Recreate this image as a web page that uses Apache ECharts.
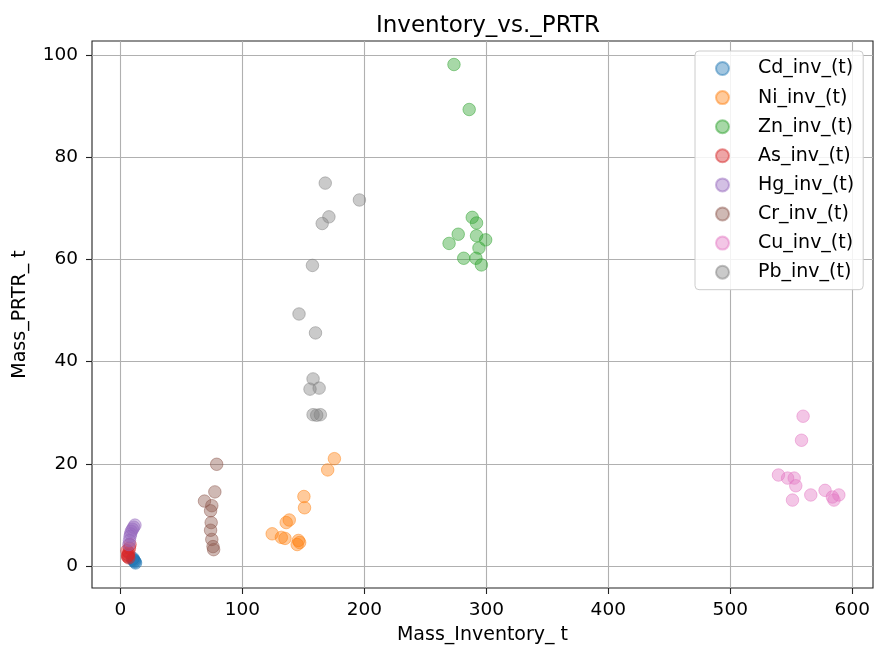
<!DOCTYPE html>
<html>
<head>
<meta charset="utf-8">
<script src="https://cdn.jsdelivr.net/npm/echarts@6/dist/echarts.min.js"></script>
<style>html,body{margin:0;padding:0;background:#fff}#c{width:877px;height:651px}</style>
</head>
<body>
<div id="c"></div>
<script>
const xTicks = [0, 100, 200, 300, 400, 500, 600];
const yTicks = [0, 20, 40, 60, 80, 100];

const seriesNames = ['Cd_inv_(t)', 'Ni_inv_(t)', 'Zn_inv_(t)', 'As_inv_(t)', 'Hg_inv_(t)', 'Cr_inv_(t)', 'Cu_inv_(t)', 'Pb_inv_(t)'];

const cdData = [[11, 1.2], [12, 0.8], [10.5, 1.5], [12.5, 0.6], [11.5, 1.0], [10, 1.3]];
const niData = [[175.5, 21], [170, 18.8], [150.5, 13.6], [151, 11.4], [138.5, 9], [136, 8.5], [124.5, 6.3], [132, 5.6], [135, 5.4], [146, 5], [145, 4.2], [147, 4.6]];
const znData = [[273.5, 98.1], [286, 89.3], [288.5, 68.2], [292, 67.1], [277, 64.9], [269.5, 63.1], [292, 64.6], [299.5, 63.8], [294, 62.2], [281.5, 60.2], [291.5, 60.2], [296, 58.9]];
const asData = [[6, 1.8], [6.5, 2.2], [7, 2.6], [5.5, 3], [7.5, 3.5], [8, 4.2], [6, 2.0], [7, 1.6]];
const hgData = [[7, 4.2], [7.5, 5], [8, 5.8], [8.5, 6.3], [9, 6.8], [10, 7.2], [11, 7.6], [12, 8.0]];
const crData = [[79, 19.9], [77.5, 14.5], [69, 12.7], [75, 11.8], [74, 10.8], [74.5, 8.5], [74, 7], [75, 5.2], [76, 3.8], [76.5, 3.2]];
const cuData = [[559.7, 29.3], [558.4, 24.6], [539.5, 17.8], [547, 17.2], [552.4, 17.2], [553.7, 15.7], [566, 13.9], [551, 12.9], [577.7, 14.8], [583.7, 13.5], [589, 13.9], [585, 12.9]];
const pbData = [[168, 74.9], [196, 71.6], [171, 68.3], [165.5, 67], [157.5, 58.8], [146.5, 49.3], [160, 45.6], [158, 36.6], [155.5, 34.6], [163, 34.8], [158, 29.6], [164, 29.6], [161, 29.5]];

const allData = [cdData, niData, znData, asData, hgData, crData, cuData, pbData];
const colors = ['31,119,180', '255,127,14', '44,160,44', '214,39,40', '148,103,189', '140,86,75', '227,119,194', '127,127,127'];

const font = 'DejaVu Sans';
const chart = echarts.init(document.getElementById('c'));

const series = seriesNames.map((n, i) => ({
  name: n,
  type: 'scatter',
  data: allData[i],
  symbol: 'circle',
  symbolSize: 12.5,
  itemStyle: {
    color: 'rgba(' + colors[i] + ',0.52)',
    borderColor: 'rgba(' + colors[i] + ',0.6)',
    borderWidth: 1
  },
  emphasis: { disabled: true }
}));

chart.setOption({
  animation: false,
  backgroundColor: '#fff',
  title: {
    text: 'Inventory_vs._PRTR',
    left: 371,
    top: 10,
    textStyle: { fontFamily: font, fontSize: 23, fontWeight: 'normal', color: '#000', lineHeight: 23 }
  },
  legend: {
    orient: 'vertical',
    left: 695,
    top: 51,
    padding: [7.5, 9, 7.5, 20],
    itemGap: 9.1,
    itemWidth: 13,
    itemHeight: 13,
    icon: 'circle',
    backgroundColor: 'rgba(255,255,255,0.85)',
    borderColor: '#cccccc',
    borderWidth: 1,
    borderRadius: 4,
    textStyle: { fontFamily: font, fontSize: 19, color: '#000', lineHeight: 20, padding: [0, 0, 0, 24] },
    data: seriesNames
  },
  grid: {
    left: 92, right: 4, top: 41, bottom: 63,
    show: true, borderColor: '#222', borderWidth: 1.1, backgroundColor: 'transparent'
  },
  xAxis: {
    type: 'value',
    min: -23.2,
    max: 617,
    name: 'Mass_Inventory_ t',
    nameLocation: 'middle',
    nameGap: 38,
    nameTextStyle: { fontFamily: font, fontSize: 19, color: '#000', lineHeight: 19 },
    axisLine: { show: false, onZero: false },
    axisTick: { show: true, length: 6, inside: false, customValues: xTicks, lineStyle: { color: '#222', width: 1.1 } },
    axisLabel: { fontFamily: font, fontSize: 18.5, color: '#000', margin: 13, lineHeight: 18.5, customValues: xTicks },
    splitLine: { show: true, lineStyle: { color: '#b0b0b0', width: 1.1 } }
  },
  yAxis: {
    type: 'value',
    min: -4.3,
    max: 102.7,
    name: 'Mass_PRTR_ t',
    nameLocation: 'middle',
    nameGap: 62,
    nameTextStyle: { fontFamily: font, fontSize: 19, color: '#000', lineHeight: 19 },
    axisLine: { show: false, onZero: false },
    axisTick: { show: true, length: 6, inside: false, customValues: yTicks, lineStyle: { color: '#222', width: 1.1 } },
    axisLabel: { fontFamily: font, fontSize: 18.5, color: '#000', margin: 14, customValues: yTicks },
    splitLine: { show: true, lineStyle: { color: '#b0b0b0', width: 1.1 } }
  },
  series: series
});
</script>
</body>
</html>
